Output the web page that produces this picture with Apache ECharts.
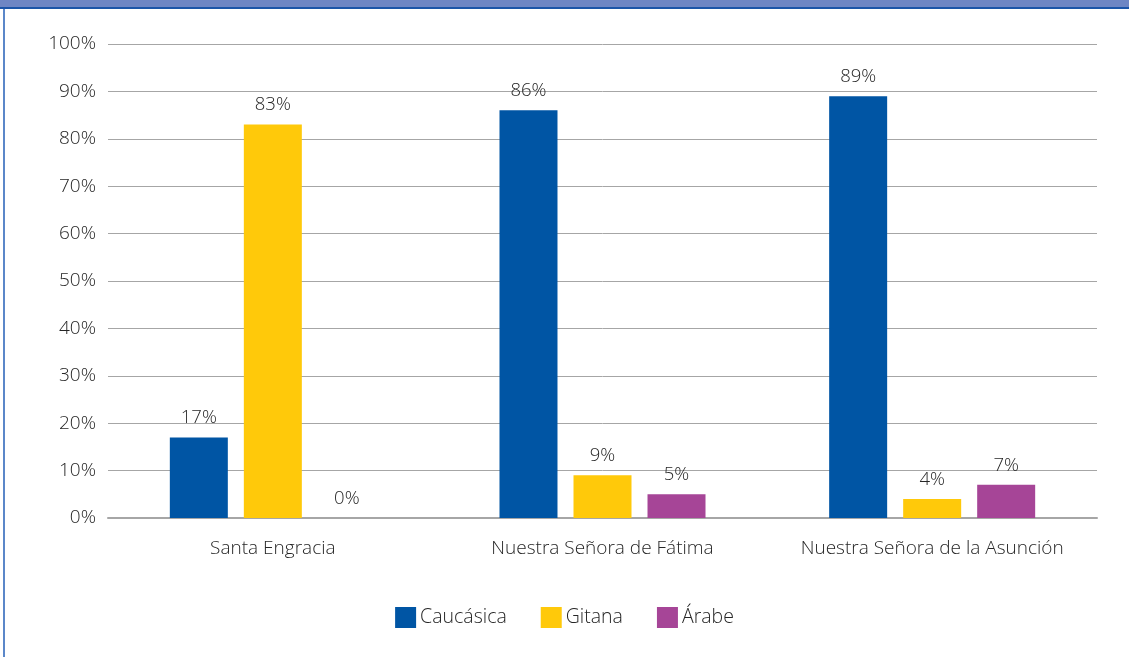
<!DOCTYPE html>
<html>
<head>
<meta charset="utf-8">
<script src="https://cdn.jsdelivr.net/npm/echarts@6/dist/echarts.min.js"></script>
<style>
  html, body { margin: 0; padding: 0; background: #fff; }
  #chart { width: 1129px; height: 657px; }
</style>
</head>
<body>
<div id="chart"></div>
<script>
// Parroquias y composición étnica del alumnado (%)
const categories = ['Santa Engracia', 'Nuestra Señora de Fátima', 'Nuestra Señora de la Asunción'];
const caucasica = [17, 86, 89];
const gitana = [83, 9, 4];
const arabe = [0, 5, 7];
const seriesNames = ['Caucásica', 'Gitana', 'Árabe'];
const seriesColors = ['#0055A4', '#FFC90A', '#A64597'];
const yTicks = [0, 10, 20, 30, 40, 50, 60, 70, 80, 90, 100];

const FONT = '"Open Sans", "Noto Sans", sans-serif';
const WEIGHT = 300;
const TEXT = '#262626';

const chart = echarts.init(document.getElementById('chart'), null, { renderer: 'canvas' });

function barSeries(name, data, color) {
  return {
    name: name,
    type: 'bar',
    data: data,
    barWidth: 58,
    barGap: '27.6%',
    itemStyle: { color: color },
    label: {
      show: true,
      position: 'top',
      distance: 10,
      formatter: p => p.value + '%',
      color: TEXT,
      fontFamily: FONT,
      fontWeight: WEIGHT,
      fontSize: 18.5
    }
  };
}

chart.setOption({
  animation: false,
  backgroundColor: '#fff',
  textStyle: { fontFamily: FONT },
  graphic: [
    { type: 'rect', shape: { x: 0, y: 0, width: 1129, height: 7 }, style: { fill: '#6E86C4' }, silent: true },
    { type: 'rect', shape: { x: 0, y: 7, width: 1129, height: 2 }, style: { fill: '#1C55A8' }, silent: true },
    { type: 'rect', shape: { x: 3, y: 9, width: 2, height: 648 }, style: { fill: '#5B87C9' }, silent: true }
  ],
  grid: { left: 108, right: 32, top: 44, bottom: 139, containLabel: false },
  legend: {
    data: seriesNames,
    bottom: 24,
    left: 'center',
    itemWidth: 21,
    itemHeight: 21,
    itemGap: 34,
    icon: 'rect',
    textStyle: { color: TEXT, fontFamily: FONT, fontWeight: WEIGHT, fontSize: 19.5, padding: [0, 0, 0, -1] }
  },
  xAxis: {
    type: 'category',
    data: categories,
    axisLine: { show: true, lineStyle: { color: '#A6A6A6', width: 2 } },
    axisTick: { show: false },
    axisLabel: { interval: 0, color: TEXT, fontFamily: FONT, fontWeight: WEIGHT, fontSize: 19, margin: 21 }
  },
  yAxis: {
    type: 'value',
    min: yTicks[0],
    max: yTicks[yTicks.length - 1],
    interval: 10,
    axisLine: { show: false },
    axisTick: { show: false },
    splitLine: { lineStyle: { color: '#A6A6A6', width: 1 } },
    axisLabel: { color: TEXT, fontFamily: FONT, fontWeight: WEIGHT, fontSize: 19, margin: 12, formatter: v => v + '%' }
  },
  series: [
    barSeries(seriesNames[0], caucasica, seriesColors[0]),
    barSeries(seriesNames[1], gitana, seriesColors[1]),
    barSeries(seriesNames[2], arabe, seriesColors[2])
  ]
});
</script>
</body>
</html>
